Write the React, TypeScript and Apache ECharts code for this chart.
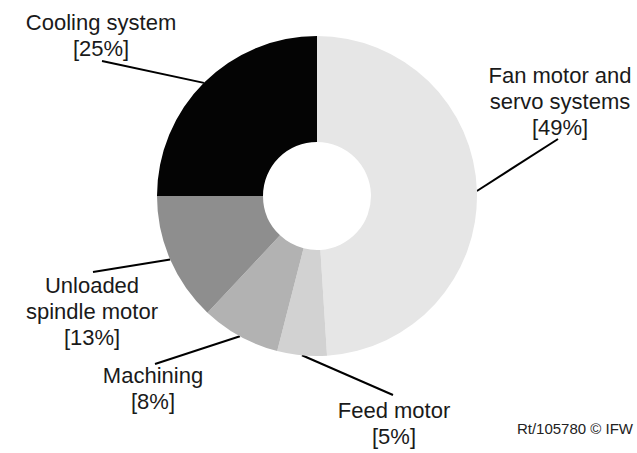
import React, { useEffect, useRef } from "react";
import * as echarts from "echarts";

// Share of energy consumption per machine component, clockwise from 12 o'clock
const names = [
  "Fan motor and\nservo systems",
  "Feed motor",
  "Machining",
  "Unloaded\nspindle motor",
  "Cooling system",
];
const shares = [49, 5, 8, 13, 25];
const sliceColors = ["#e6e6e6", "#d2d2d2", "#b2b2b2", "#8e8e8e", "#040404"];

// Where each label block sits (center) and where its leader line meets it
const labelCenters: [number, number][] = [
  [560, 101],
  [394, 423],
  [153, 388],
  [92, 311],
  [101, 35],
];
const leaderEnds: [number, number][] = [
  [558, 139],
  [393, 395],
  [155, 364],
  [93, 272],
  [102, 61],
];

const CENTER: [number, number] = [317, 196];
const INNER_R = 54;
const OUTER_R = 160;

export default function App() {
  const ref = useRef<HTMLDivElement>(null);

  useEffect(() => {
    if (!ref.current) return;
    const chart = echarts.init(ref.current, null, { renderer: "svg" });

    const total = shares.reduce((a, b) => a + b, 0);
    // mid-angle point on the outer rim of each slice
    let acc = 0;
    const rimPoints = shares.map((v) => {
      const mid = ((acc + v / 2) / total) * Math.PI * 2;
      acc += v;
      return [CENTER[0] + OUTER_R * Math.sin(mid), CENTER[1] - OUTER_R * Math.cos(mid)];
    });

    chart.setOption({
      animation: false,
      backgroundColor: "#ffffff",
      graphic: [
        {
          type: "text",
          right: 4,
          top: 421,
          style: {
            text: "Rt/105780 © IFW",
            fontFamily: "Liberation Sans, Arial, sans-serif",
            fontSize: 15,
            fill: "#222222",
          },
        },
      ],
      series: [
        {
          type: "pie",
          center: CENTER,
          radius: [INNER_R, OUTER_R],
          startAngle: 90,
          clockwise: true,
          avoidLabelOverlap: false,
          emphasis: { disabled: true },
          itemStyle: { borderWidth: 0 },
          data: shares.map((v, i) => ({
            name: names[i],
            value: v,
            itemStyle: { color: sliceColors[i] },
          })),
          label: {
            show: true,
            formatter: "{b}\n[{c}%]",
            fontFamily: "Liberation Sans, Arial, sans-serif",
            fontSize: 22,
            lineHeight: 26,
            color: "#1a1a1a",
            align: "center",
          },
          labelLine: {
            show: true,
            length: 10,
            length2: 10,
            lineStyle: { color: "#000000", width: 2 },
          },
          labelLayout: (params: any) => {
            const i = params.dataIndex;
            const [lx, ly] = labelCenters[i];
            const end = leaderEnds[i];
            const start = rimPoints[i];
            return {
              x: lx,
              y: ly,
              align: "center",
              verticalAlign: "middle",
              labelLinePoints: [start, end, end],
            };
          },
        },
      ],
    });

    return () => chart.dispose();
  }, []);

  return (
    <div
      ref={ref}
      style={{ position: "fixed", left: 0, top: 0, width: 637, height: 453 }}
    />
  );
}
